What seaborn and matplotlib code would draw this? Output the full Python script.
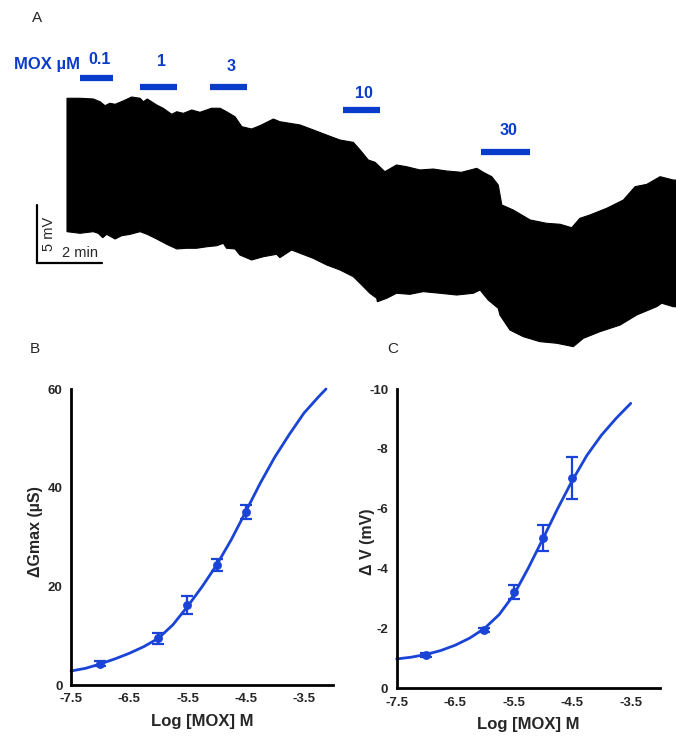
import numpy as np
import pandas as pd
import matplotlib
matplotlib.use("Agg")
import matplotlib.pyplot as plt
import seaborn as sns

# ---------------- Panel A: membrane-potential trace envelope ----------------
# time (min) and potential (mV, relative to the start of the trace)
trace_up_t = [0.0, 0.40, 0.81, 1.02, 1.17, 1.32, 1.48, 1.73, 1.99, 2.25, 2.35, 2.47,
              2.76, 2.96, 3.22, 3.38, 3.58, 3.84, 4.09, 4.45, 4.71, 4.91, 5.17, 5.38,
              5.68, 5.94, 6.35, 6.55, 6.86, 7.17, 7.58, 7.99, 8.40, 8.81, 9.02, 9.27,
              9.48, 9.78, 10.14, 10.45, 10.86, 11.27, 11.68, 12.14, 12.61, 12.81, 13.07,
              13.27, 13.38, 13.73, 14.25, 14.76, 15.17, 15.53, 15.78, 16.09, 16.61,
              17.12, 17.48, 17.84, 18.25, 18.66, 18.74]
trace_up_v = [-0.11, -0.11, -0.17, -0.41, -0.75, -0.54, -0.63, -0.34, 0.0, -0.11, -0.41,
              -0.17, -0.69, -0.97, -1.49, -1.27, -1.41, -1.12, -1.32, -0.97, -0.97, -1.27,
              -1.70, -2.56, -2.76, -2.47, -1.90, -2.13, -2.27, -2.41, -2.84, -3.28, -3.71,
              -3.91, -4.57, -5.43, -5.63, -6.44, -5.86, -6.01, -6.29, -6.21, -6.38, -6.49,
              -6.15, -6.49, -6.87, -7.59, -9.31, -9.74, -10.60, -10.89, -10.97, -11.27,
              -10.46, -10.17, -9.59, -8.88, -7.73, -7.53, -6.87, -7.16, -7.16]
trace_lo_t = [0.0, 0.40, 0.81, 0.96, 1.10, 1.22, 1.48, 1.68, 1.94, 2.25, 2.47, 2.76,
              3.07, 3.38, 3.68, 3.99, 4.30, 4.61, 4.81, 4.91, 5.17, 5.32, 5.68, 6.04,
              6.45, 6.55, 6.91, 7.17, 7.58, 7.99, 8.40, 8.81, 9.07, 9.32, 9.53, 9.55,
              9.84, 10.14, 10.55, 10.96, 11.48, 11.99, 12.50, 12.71, 12.96, 13.27, 13.32,
              13.63, 14.04, 14.55, 15.07, 15.58, 15.89, 16.40, 17.02, 17.53, 18.14,
              18.30, 18.66, 18.74]
trace_lo_v = [-11.61, -11.75, -11.61, -11.75, -12.13, -11.84, -12.24, -11.96, -11.84,
              -11.61, -11.84, -12.24, -12.70, -13.10, -13.04, -13.04, -12.91, -12.82,
              -12.61, -13.04, -13.10, -13.62, -14.05, -13.77, -13.56, -13.85, -13.19,
              -13.47, -13.91, -14.48, -14.91, -15.49, -16.21, -16.92, -17.35, -17.65,
              -17.35, -16.92, -17.01, -16.78, -16.92, -17.07, -16.92, -16.64, -17.50,
              -18.22, -18.79, -20.09, -20.66, -21.09, -21.23, -21.52, -20.80, -20.23,
              -19.66, -18.79, -18.08, -17.78, -18.08, -18.08]

mox_labels = ["0.1", "1", "3", "10", "30"]
mox_start = [0.40, 2.25, 4.40, 8.48, 12.73]   # min
mox_end = [1.42, 3.38, 5.54, 9.63, 14.25]     # min

# ---------------- Panels B and C: concentration-response ----------------
log_conc = [-7.0, -6.0, -5.5, -5.0, -4.5]
dg_mean = [4.3, 9.5, 16.2, 24.3, 35.1]
dg_sem = [0.5, 1.1, 1.85, 1.2, 1.35]
dv_mean = [-1.11, -1.95, -3.23, -5.01, -7.02]
dv_sem = [0.08, 0.08, 0.23, 0.43, 0.70]

fitB_x = [-7.5, -7.25, -7.0, -6.75, -6.5, -6.25, -6.0, -5.75, -5.5, -5.25, -5.0,
          -4.75, -4.5, -4.25, -4.0, -3.75, -3.5, -3.25, -3.12]
fitB_y = [2.84, 3.38, 4.26, 5.27, 6.42, 7.77, 9.46, 12.2, 15.9, 19.9, 24.3,
          29.4, 35.1, 40.9, 46.2, 50.8, 55.1, 58.4, 60.0]
fitC_x = [-7.5, -7.25, -7.0, -6.75, -6.5, -6.25, -6.0, -5.75, -5.5, -5.25, -5.0,
          -4.75, -4.5, -4.25, -4.0, -3.75, -3.5]
fitC_y = [-0.98, -1.04, -1.13, -1.26, -1.44, -1.68, -2.00, -2.46, -3.12, -4.02, -5.00,
          -6.00, -6.94, -7.78, -8.46, -9.02, -9.52]

x_ticks = [-7.5, -7.0, -6.5, -6.0, -5.5, -5.0, -4.5, -4.0, -3.5, -3.0]
x_tick_labels = ["-7.5", "", "-6.5", "", "-5.5", "", "-4.5", "", "-3.5", ""]
yB_ticks = [0, 20, 40, 60]
yB_labels = ["0", "20", "40", "60"]
yC_ticks = [0, -2, -4, -6, -8, -10]
yC_labels = ["0", "-2", "-4", "-6", "-8", "-10"]

# ---------------- style ----------------
sns.set_style("white")
plt.rcParams['font.family'] = ['Liberation Sans', 'DejaVu Sans']
plt.rcParams['axes.unicode_minus'] = False

BLUE = "#1a44d6"
TEXT_BLUE = "#0a3ccc"
W, H = 676, 739

fig = plt.figure(figsize=(6.76, 7.39), dpi=100)

# ---------------- Panel A ----------------
axA = fig.add_axes([0, 0.5, 1, 0.5])
axA.set_axis_off()
axA.set_xlim(-67 / 32.5, 609 / 32.5)
axA.set_ylim((97 - 369.5) / 11.6, 97 / 11.6)
poly_t = np.concatenate([trace_up_t, trace_lo_t[::-1]])
poly_v = np.concatenate([trace_up_v, trace_lo_v[::-1]])
axA.fill(poly_t, poly_v, color="black", lw=0.8, ec="black")

bar_level = [1.64, 0.86, 0.86, -1.12, -4.70]      # layout (mV)
label_level = [3.19, 3.02, 2.67, 0.34, -2.93]     # layout (mV)
for lab, s, e, yb, yl in zip(mox_labels, mox_start, mox_end, bar_level, label_level):
    axA.plot([s, e], [yb, yb], color=TEXT_BLUE, lw=4.5, solid_capstyle="butt")
    axA.text((s + e) / 2 + 0.08, yl, lab, color=TEXT_BLUE, fontsize=11.5,
             fontweight="bold", ha="center", va="center")

fig.text(14 / W, 1 - 65 / H, "MOX µM", color=TEXT_BLUE, fontsize=12,
         fontweight="bold", ha="left", va="center")

# scale bar: 2 min x 5 mV
sb_t0, sb_v0 = -0.92, -14.31
axA.plot([sb_t0, sb_t0, sb_t0 + 2.0], [sb_v0 + 5.0, sb_v0, sb_v0],
         color="black", lw=1.6, solid_joinstyle="miter")
axA.text(sb_t0 + 0.37, sb_v0 + 2.5, "5 mV", rotation=90, fontsize=10.5,
         ha="center", va="center")
axA.text(sb_t0 + 1.32, sb_v0 + 0.86, "2 min", fontsize=10.5, ha="center", va="center")

# panel letters
fig.text(37 / W, 1 - 18 / H, "A", fontsize=11, ha="center", va="center")
fig.text(35 / W, 1 - 349 / H, "B", fontsize=11, ha="center", va="center")
fig.text(393 / W, 1 - 349 / H, "C", fontsize=11, ha="center", va="center")

# ---------------- Panels B and C ----------------
axB = fig.add_axes([71 / W, 1 - 685 / H, (333 - 71) / W, (685 - 389) / H])
axC = fig.add_axes([396.7 / W, 1 - 688.3 / H, (660 - 396.7) / W, (688.3 - 389) / H])

dfB = pd.DataFrame({"x": log_conc, "y": dg_mean, "e": dg_sem})
dfC = pd.DataFrame({"x": log_conc, "y": dv_mean, "e": dv_sem})
fitB = pd.DataFrame({"x": fitB_x, "y": fitB_y})
fitC = pd.DataFrame({"x": fitC_x, "y": fitC_y})

for ax, df, fit in ((axB, dfB, fitB), (axC, dfC, fitC)):
    sns.lineplot(data=fit, x="x", y="y", ax=ax, color=BLUE, lw=2.0, sort=True,
                 clip_on=False)
    ax.errorbar(df["x"], df["y"], yerr=df["e"], fmt="none", ecolor=BLUE,
                elinewidth=1.6, capsize=4, capthick=1.6, clip_on=False)
    sns.scatterplot(data=df, x="x", y="y", ax=ax, color=BLUE, s=34,
                    edgecolor=BLUE, linewidth=0.5, clip_on=False, zorder=5)
    ax.set_xlim(-7.5, -3.0)
    ax.set_xticks(x_ticks, labels=x_tick_labels)
    sns.despine(ax=ax)
    for sp in ("left", "bottom"):
        ax.spines[sp].set_linewidth(2.0)
        ax.spines[sp].set_color("black")
    ax.tick_params(axis="both", direction="out", length=4, width=1.8,
                   labelsize=9.5, pad=2, color="black")
    ax.set_xlabel("Log [MOX] M", fontsize=12, fontweight="bold", labelpad=6)
    ax.grid(False)

axB.set_ylim(0, 60)
axB.set_yticks(yB_ticks, labels=yB_labels)
axB.set_ylabel("ΔGmax (µS)", fontsize=11.5, fontweight="bold")
axB.yaxis.set_label_coords(-0.105, 0.52)

axC.set_ylim(0, -10)
axC.set_yticks(yC_ticks, labels=yC_labels)
axC.set_ylabel("Δ V (mV)", fontsize=11.5, fontweight="bold")
axC.yaxis.set_label_coords(-0.082, 0.49)

for ax in (axB, axC):
    for lab in ax.get_xticklabels() + ax.get_yticklabels():
        lab.set_fontweight("bold")

fig.savefig("out.png", dpi=100)
